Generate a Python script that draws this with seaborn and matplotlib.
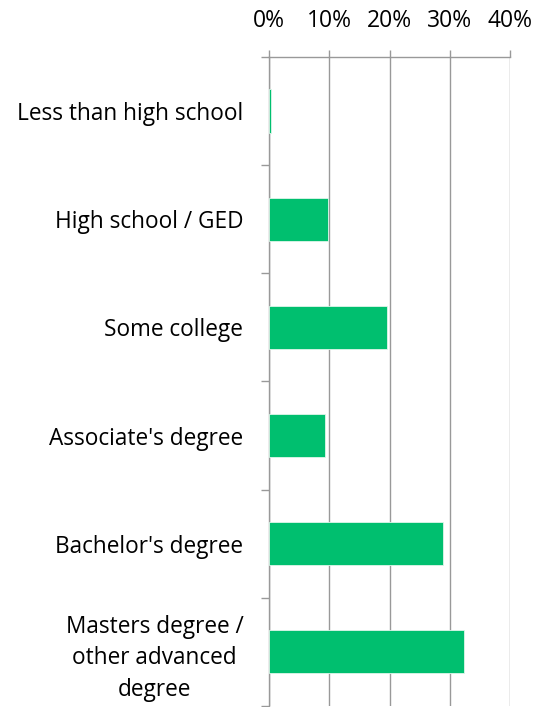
import numpy as np
import pandas as pd
import seaborn as sns
from matplotlib import pyplot as plt

categories = ["Less than high school", "High school / GED", "Some college",
              "Associate's degree", "Bachelor's degree",
              "Masters degree /\nother advanced\ndegree"]
shares = [0.4, 9.8, 19.6, 9.3, 28.9, 32.3]
x_ticks = [0, 10, 20, 30, 40]
x_labels = ["0%", "10%", "20%", "30%", "40%"]

df = pd.DataFrame({"level": categories, "share": shares})

sns.set_style("white")
plt.rcParams['font.family'] = ['Open Sans', 'DejaVu Sans']

fig = plt.figure(figsize=(5.37, 7.07), dpi=100)
ax = fig.add_axes([0.501, 0.0015, 0.449, 0.918])

sns.barplot(data=df, x="share", y="level", color="#00BF6F", width=0.4,
            edgecolor="#dff5ea", linewidth=0.6, saturation=1, ax=ax, zorder=3)

ax.set_xlim(0, 40)
ax.set_ylim(5.5, -0.5)
ax.set_xticks(x_ticks)
ax.set_xticklabels(x_labels, fontsize=16.5, color="black")
ax.xaxis.tick_top()
ax.tick_params(axis="x", which="major", direction="out", length=5,
               color="#999999", width=1, pad=12, top=True, bottom=False)
ax.grid(axis="x", color="#999999", linewidth=1, zorder=0)
ax.set_axisbelow(True)

# labels at centres, tick marks between categories
ax.set_yticks(range(len(categories)))
ax.set_yticklabels(categories, fontsize=16.3, color="black")
ax.set_yticks(np.arange(-0.5, len(categories), 1), minor=True)
ax.tick_params(axis="y", which="major", length=0, pad=18.5)
ax.tick_params(axis="y", which="minor", direction="out", length=6,
               color="#999999", width=1, left=True)
for lbl in ax.get_yticklabels():
    lbl.set_multialignment("center")
    lbl.set_linespacing(1.4)

for side in ["right", "bottom"]:
    ax.spines[side].set_visible(False)
for side in ["top", "left"]:
    ax.spines[side].set_color("#999999")
    ax.spines[side].set_linewidth(1)

ax.set_xlabel("")
ax.set_ylabel("")

fig.savefig("out.png", dpi=100)
